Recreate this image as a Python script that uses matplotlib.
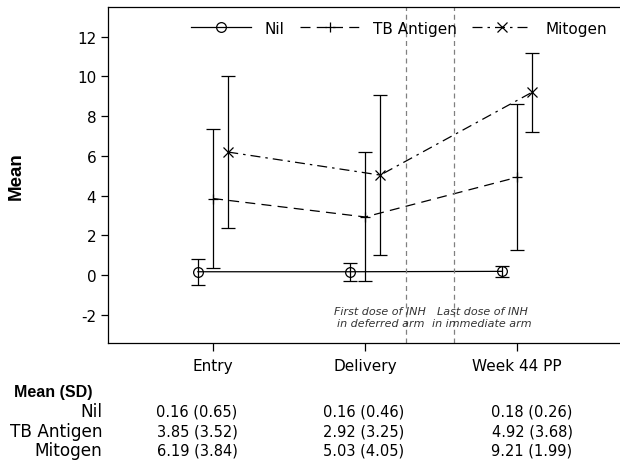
import numpy as np
import matplotlib
matplotlib.use("Agg")
import matplotlib.pyplot as plt

plt.rcParams["axes.unicode_minus"] = False

# Data
timepoints = ["Entry", "Delivery", "Week 44 PP"]
series = ["Nil", "TB Antigen", "Mitogen"]
nil_mean = [0.16, 0.16, 0.18]
nil_sd = [0.65, 0.46, 0.26]
tb_mean = [3.85, 2.92, 4.92]
tb_sd = [3.52, 3.25, 3.68]
mito_mean = [6.19, 5.03, 9.21]
mito_sd = [3.84, 4.05, 1.99]
event_x = [2.27, 2.585]
event_text = ["First dose of INH\nin deferred arm", "Last dose of INH\nin immediate arm"]

W, H = 620, 464
fig = plt.figure(figsize=(W / 100, H / 100), dpi=100)
ax = fig.add_axes([108 / W, (H - 344) / H, (622 - 108) / W, (344 - 8) / H])

x = np.arange(1, len(timepoints) + 1)
offset = 0.1

markers = ["o", "+", "x"]
linestyles = ["-", (0, (8, 5)), (0, (8, 4, 2, 4))]
means = [nil_mean, tb_mean, mito_mean]
sds = [nil_sd, tb_sd, mito_sd]
shifts = [-offset, 0, offset]

for name, m, s, sh, mk, ls in zip(series, means, sds, shifts, markers, linestyles):
    ax.errorbar(x + sh, m, yerr=s, fmt="none", ecolor="black", elinewidth=0.9,
                capsize=5, capthick=0.9)
    ax.plot(x + sh, m, color="black", lw=0.9, marker=mk, mfc="none",
            mec="black", ms=7, mew=0.9, ls=ls, label=name)

for ex in event_x:
    ax.axvline(ex, color="#808080", lw=0.9, ls=(0, (4, 3)))

ax.text(2.1, -2.12, event_text[0], fontsize=8, style="italic", color="#333333",
        ha="center", va="center", linespacing=1.15)
ax.text(2.77, -2.12, event_text[1], fontsize=8, style="italic", color="#333333",
        ha="center", va="center", linespacing=1.15)

ax.set_xlim(0.309, 3.69)
ax.set_ylim(-3.43, 13.5)
ax.set_xticks(x)
ax.set_xticklabels(timepoints, fontsize=11)
ax.set_yticks(np.arange(-2, 13, 2))
ax.tick_params(axis="y", labelsize=11, length=5, width=0.9)
ax.tick_params(axis="x", length=6, width=0.9, pad=5)
for sp in ax.spines.values():
    sp.set_linewidth(0.9)

ax.set_ylabel("Mean", fontsize=13.5, fontweight="bold", family="Liberation Sans")
ax.yaxis.set_label_coords(-(108 - 25) / (622 - 108), (344 - 176) / (344 - 8))

ax.legend(loc="upper right", ncol=3, frameon=False, fontsize=11, handlelength=3.9,
          columnspacing=1.0, handletextpad=0.9, bbox_to_anchor=(0.998, 1.0))

# Table of mean (SD) below the chart
fig.text(14 / W, 1 - 393 / H, "Mean (SD)", fontsize=11.5, fontweight="bold",
         family="Liberation Sans", ha="left", va="center")
col_x = [197, 364, 532]
row_y = [412, 432, 451]
for i, name in enumerate(series):
    fig.text(102 / W, 1 - row_y[i] / H, name, fontsize=12.2, ha="right", va="center")
    for j in range(len(timepoints)):
        fig.text(col_x[j] / W, 1 - row_y[i] / H, f"{means[i][j]:.2f} ({sds[i][j]:.2f})",
                 fontsize=10.5, ha="center", va="center")

fig.savefig("out.png", dpi=100)
